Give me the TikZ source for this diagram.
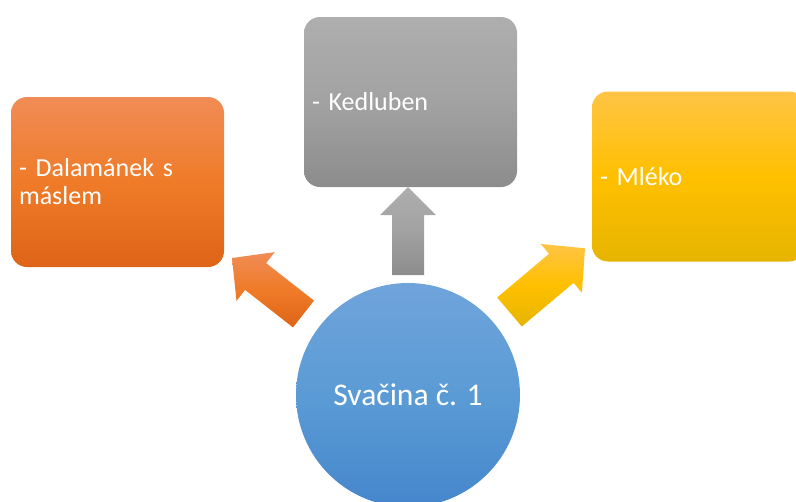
\documentclass[tikz,border=0pt]{standalone}
\usepackage{fontspec}
\setmainfont{Carlito}
\usetikzlibrary{calc}
\definecolor{orTop}{HTML}{F08C56}
\definecolor{orMid}{HTML}{EF7B28}
\definecolor{orBot}{HTML}{DE6417}
\definecolor{grTop}{HTML}{AEAEAE}
\definecolor{grMid}{HTML}{A2A2A2}
\definecolor{grBot}{HTML}{8C8C8C}
\definecolor{yeTop}{HTML}{FFC445}
\definecolor{yeMid}{HTML}{FFC000}
\definecolor{yeBot}{HTML}{E6B400}
\definecolor{blTop}{HTML}{6FA4DB}
\definecolor{blMid}{HTML}{5B9BD5}
\definecolor{blBot}{HTML}{4586CC}
\begin{document}
\begin{tikzpicture}[x=0.75pt,y=-0.75pt,
  box/.style={rectangle, rounded corners=12pt, minimum width=159.75pt,
    minimum height=127.5pt, text width=147.75pt, inner xsep=6pt, inner ysep=0pt,
    align=left, text=white, font=\fontsize{19.5}{21}\selectfont},
  orangeshade/.style={top color=orTop, bottom color=orBot, middle color=orMid},
  grayshade/.style={top color=grTop, bottom color=grBot, middle color=grMid},
  yellowshade/.style={top color=yeTop, bottom color=yeBot, middle color=yeMid},
  blueshade/.style={top color=blTop, bottom color=blBot, middle color=blMid},
  hub/.style={circle, minimum size=168pt, inner sep=0pt, text=white,
    font=\fontsize{23.7}{26}\selectfont}]
\clip (0,0) rectangle (796,501);
% boxes
\node[box, orangeshade] (dal) at (117.5,182) {- Dalamánek s\\máslem};
\node[box, grayshade] (ked) at (410.5,102) {- Kedluben};
\node[box, yellowshade] (mle) at (698.5,176.5) {- Mléko};
% hub
\node[hub, blueshade] (sva) at (408,395) {Svačina č. 1};
% block arrows
\shade[orangeshade] (232,258) -- (274.7,252.1) -- (266.1,263.1) -- (314,300.6)
  -- (293,327.4) -- (245.1,289.9) -- (236.5,300.9) -- cycle;
\shade[grayshade] (408,187) -- (436,215) -- (424,215) -- (424,275)
  -- (392,275) -- (392,215) -- (380,215) -- cycle;
\shade[yellowshade] (585,248.3) -- (540.7,243.9) -- (549,253.8) -- (497.2,297.5)
  -- (521.8,326.5) -- (573.6,282.8) -- (581.9,292.7) -- cycle;
\end{tikzpicture}
\end{document}
